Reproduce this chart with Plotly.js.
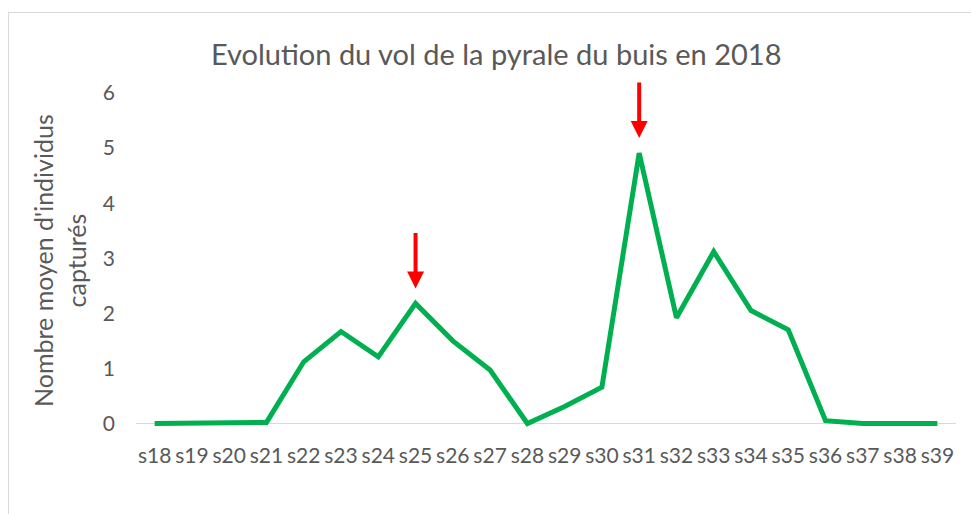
<!DOCTYPE html>
<html>
<head>
<meta charset="utf-8">
<script src="https://cdn.plot.ly/plotly-3.0.1.min.js"></script>
<style>
  html, body { margin: 0; padding: 0; background: #ffffff; overflow: hidden; }
  #frame { position: absolute; left: 8px; top: 12px; width: 1000px; height: 600px; border: 1px solid #d9d9d9; box-sizing: border-box; }
  #chart { position: absolute; left: 0; top: 0; width: 971px; height: 514px; }
</style>
</head>
<body>
<div id="frame"></div>
<div id="chart"></div>
<script>
const weeks = ['s18','s19','s20','s21','s22','s23','s24','s25','s26','s27','s28',
               's29','s30','s31','s32','s33','s34','s35','s36','s37','s38','s39'];
const captures = [0, 0, 0, 0.02, 1.12, 1.67, 1.21, 2.18, 1.50, 0.97, 0,
                  0.31, 0.66, 4.91, 1.92, 3.12, 2.05, 1.70, 0.05, 0, 0, 0];
const arrowWeeks = ['s25', 's31'];
const titleText = 'Evolution du vol de la pyrale du buis en 2018';
const yTitleText = "Nombre moyen d'individus<br>capturés";

const FONT = 'Lato, "Liberation Sans", sans-serif';
const GREY = '#595959';

const trace = {
  x: weeks,
  y: captures,
  type: 'scatter',
  mode: 'lines',
  line: { color: '#00b050', width: 5 },
  hoverinfo: 'skip'
};

const annotations = arrowWeeks.map(w => ({
  x: w,
  y: captures[weeks.indexOf(w)],
  xref: 'x', yref: 'y',
  text: '',
  showarrow: true,
  arrowhead: 2,
  arrowsize: 0.85,
  arrowwidth: 4,
  arrowcolor: '#ff0000',
  standoff: 15,
  ax: 0,
  ay: -72
}));

annotations.push({
  text: yTitleText,
  xref: 'paper', yref: 'paper',
  x: 0, y: 0.5,
  xanchor: 'center', yanchor: 'middle',
  xshift: -77,
  textangle: -90,
  showarrow: false,
  font: { family: FONT, size: 25, color: GREY }
});

const layout = {
  width: 971, height: 514,
  margin: { l: 136, r: 15, t: 93, b: 85 },
  paper_bgcolor: 'rgba(0,0,0,0)',
  plot_bgcolor: 'rgba(0,0,0,0)',
  showlegend: false,
  title: {
    text: titleText,
    xref: 'container', yref: 'container',
    x: 0.511, y: 1 - 55 / 514,
    xanchor: 'center', yanchor: 'middle',
    font: { family: FONT, size: 29, color: GREY }
  },
  xaxis: {
    type: 'category',
    range: [-0.5, 21.5],
    showgrid: false,
    showline: false,
    zeroline: false,
    ticks: '',
    ticklabelstandoff: 12,
    tickfont: { family: FONT, size: 21, color: GREY },
    fixedrange: true
  },
  yaxis: {
    range: [-0.1, 6],
    tickvals: [0, 1, 2, 3, 4, 5, 6],
    showgrid: false,
    showline: false,
    zeroline: true,
    zerolinecolor: '#d9d9d9',
    zerolinewidth: 1.5,
    ticks: '',
    ticklabelstandoff: 20,
    tickfont: { family: FONT, size: 21, color: GREY },
    fixedrange: true
  },
  annotations: annotations
};

Plotly.newPlot('chart', [trace], layout, { displayModeBar: false, staticPlot: true });
</script>
</body>
</html>
